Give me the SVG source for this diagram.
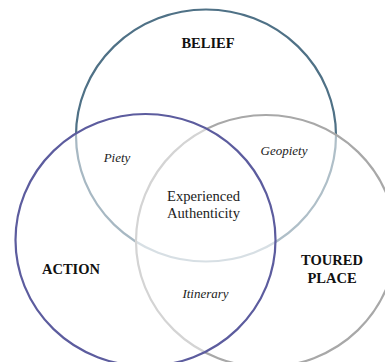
<svg xmlns="http://www.w3.org/2000/svg" width="385" height="362" viewBox="0 0 385 362">
<style>
.c{stroke-width:2.2}
.b{font-family:"Liberation Serif",serif;font-weight:bold;font-size:14.5px;fill:#111;text-anchor:middle}
.i{font-family:"Liberation Serif",serif;font-style:italic;font-size:13px;fill:#222;text-anchor:middle}
.r{font-family:"Liberation Serif",serif;font-size:14.6px;fill:#222;text-anchor:middle}
</style>
<rect width="385" height="362" fill="#fff"/>
<g id="circles">
<ellipse id="belief-circle" class="c" cx="206" cy="135.5" rx="130" ry="126" fill="none" stroke="#4f7186"/>
<ellipse id="place-circle" class="c" cx="266" cy="241" rx="130" ry="126" fill="#fff" fill-opacity="0.55" stroke="#a8a8a8"/>
<ellipse id="action-circle" class="c" cx="145.5" cy="240" rx="130" ry="126" fill="#fff" fill-opacity="0.5" stroke="#5c5c9e"/>
</g>
<g id="belief"><text class="b" x="208" y="48">BELIEF</text></g>
<g id="action"><text class="b" x="71" y="274">ACTION</text></g>
<g id="place"><text class="b" x="332" y="265">TOURED</text><text class="b" x="332" y="283.3">PLACE</text></g>
<g id="piety"><text class="i" x="117" y="161.7">Piety</text></g>
<g id="geopiety"><text class="i" x="284" y="155">Geopiety</text></g>
<g id="center"><text class="r" x="203.5" y="201">Experienced</text><text class="r" x="203.5" y="218.3">Authenticity</text></g>
<g id="itinerary"><text class="i" x="205.5" y="297.7">Itinerary</text></g>
</svg>
